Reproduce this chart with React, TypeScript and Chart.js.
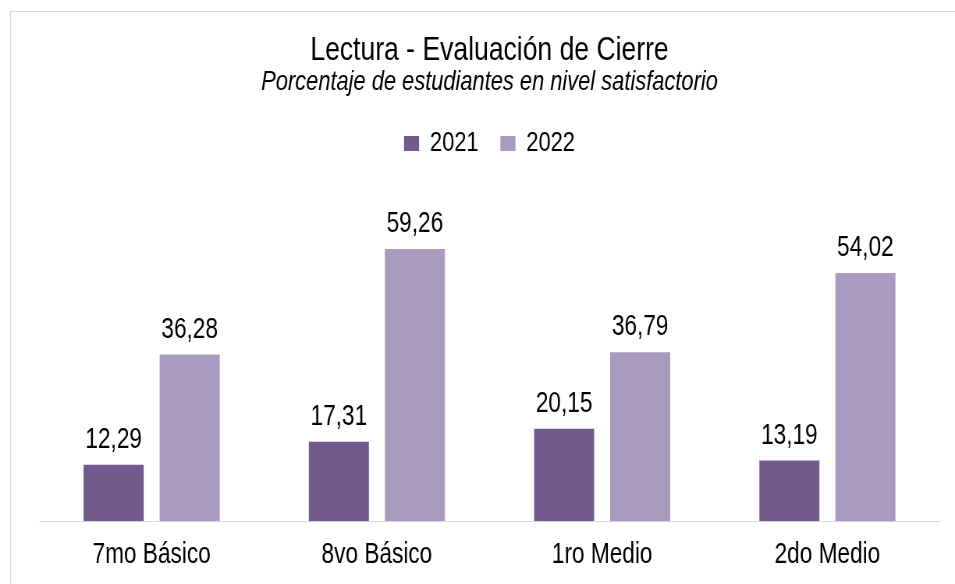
import React, { useEffect, useRef } from "react";
import { Chart, registerables } from "chart.js";

Chart.register(...registerables);

const categories = ["7mo Básico", "8vo Básico", "1ro Medio", "2do Medio"];
const series2021 = [12.29, 17.31, 20.15, 13.19];
const series2022 = [36.28, 59.26, 36.79, 54.02];
const seriesNames = ["2021", "2022"];

const FONT = "'Liberation Sans', Arial, sans-serif";

// The reference uses a condensed typeface; the canvas is drawn wider and
// shown squeezed horizontally to reproduce it.
const VIEW_W = 955;
const VIEW_H = 584;
const SQUEEZE = 0.78;
const CANVAS_W = Math.round(VIEW_W / SQUEEZE);

const frame = {
  id: "frame",
  beforeDraw(chart: any) {
    const ctx = chart.ctx;
    ctx.save();
    ctx.fillStyle = "#ffffff";
    ctx.fillRect(0, 0, chart.width, chart.height);
    ctx.fillStyle = "#d9d9d9";
    ctx.fillRect(10 / SQUEEZE, 11, chart.width, 1);
    ctx.fillRect(10 / SQUEEZE, 11, 1 / SQUEEZE, chart.height);
    ctx.restore();
  },
};

const valueLabels = {
  id: "valueLabels",
  afterDatasetsDraw(chart: any) {
    const ctx = chart.ctx;
    ctx.save();
    ctx.font = `29px ${FONT}`;
    ctx.fillStyle = "#000000";
    ctx.textAlign = "center";
    ctx.textBaseline = "alphabetic";
    chart.data.datasets.forEach((ds: any, i: number) => {
      const meta = chart.getDatasetMeta(i);
      meta.data.forEach((bar: any, j: number) => {
        const v = ds.data[j] as number;
        ctx.fillText(v.toFixed(2).replace(".", ","), bar.x, bar.y - 17);
      });
    });
    ctx.restore();
  },
};

export default function App() {
  const ref = useRef<HTMLCanvasElement>(null);
  useEffect(() => {
    if (!ref.current) return;
    const chart = new Chart(ref.current, {
      type: "bar",
      data: {
        labels: categories,
        datasets: [
          {
            label: seriesNames[0],
            data: series2021,
            backgroundColor: "#725A8F",
            categoryPercentage: 0.675,
            barPercentage: 0.79,
          },
          {
            label: seriesNames[1],
            data: series2022,
            backgroundColor: "#A99AC0",
            categoryPercentage: 0.675,
            barPercentage: 0.79,
          },
        ],
      },
      options: {
        responsive: false,
        animation: false,
        devicePixelRatio: 1,
        layout: { padding: { left: 39 / SQUEEZE, right: 15 / SQUEEZE, top: 0, bottom: 4 } },
        plugins: {
          title: {
            display: true,
            text: "Lectura - Evaluación de Cierre",
            color: "#000000",
            font: { family: FONT, size: 34, weight: "normal", lineHeight: 1 },
            padding: { top: 34, bottom: 0 },
          },
          subtitle: {
            display: true,
            text: "Porcentaje de estudiantes en nivel satisfactorio",
            color: "#000000",
            font: { family: FONT, size: 28, style: "italic", weight: "normal", lineHeight: 1 },
            padding: { top: 0.5, bottom: 5 },
          },
          legend: {
            display: true,
            labels: {
              color: "#000000",
              font: { family: FONT, size: 28 },
              boxWidth: 15 / SQUEEZE,
              boxHeight: 15,
              padding: 28,
            },
          },
          tooltip: { enabled: false },
        },
        scales: {
          x: {
            grid: { display: false },
            border: { display: true, color: "#d9d9d9", width: 1 },
            ticks: { color: "#000000", font: { family: FONT, size: 29 }, padding: 8 },
          },
          y: {
            display: false,
            min: 0,
            max: 77,
          },
        },
      },
      plugins: [frame, valueLabels],
    });
    return () => chart.destroy();
  }, []);
  return (
    <div style={{ position: "fixed", left: 0, top: 0, width: VIEW_W, height: VIEW_H, overflow: "hidden" }}>
      <canvas
        ref={ref}
        width={CANVAS_W}
        height={VIEW_H}
        style={{ width: `${VIEW_W}px`, height: `${VIEW_H}px`, display: "block" }}
      />
    </div>
  );
}
